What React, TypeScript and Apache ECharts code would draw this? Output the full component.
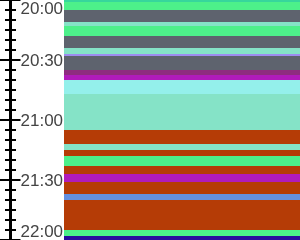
import React, { useEffect, useRef } from "react";
import * as echarts from "echarts";

// Minutes after 20:00
const tickLabels = ["20:00", "20:30", "21:00", "21:30", "22:00"];
const segStart = [0, 1, 5, 11, 13, 18, 24, 27, 28, 35, 37.5, 40, 47, 65, 72, 75, 78, 83, 87, 91, 97, 100, 115, 118];
const segEnd = [1, 5, 11, 13, 18, 24, 27, 28, 35, 37.5, 40, 47, 65, 72, 75, 78, 83, 87, 91, 97, 100, 115, 118, 120];
const segKind = [
  "teal", "green", "gray", "lightTeal", "green", "gray", "lightTeal", "lavender", "gray",
  "plum", "magenta", "cyan", "lightTeal", "rust", "lightTeal", "rust", "green", "rust",
  "magenta", "rust", "blue", "rust", "green", "navy",
];
const palette: Record<string, string> = {
  teal: "#37d69c",
  green: "#4df08a",
  gray: "#5e636e",
  lightTeal: "#85e3c7",
  lavender: "#9e8cf0",
  plum: "#8e2c80",
  magenta: "#b01bbb",
  cyan: "#94f0eb",
  rust: "#b53c06",
  blue: "#6490e0",
  navy: "#2a0b9e",
};

export default function App() {
  const ref = useRef<HTMLDivElement>(null);
  useEffect(() => {
    if (!ref.current) return;
    const chart = echarts.init(ref.current, null, { renderer: "svg" });
    const data = segStart.map((s, i) => ({
      value: [s, segEnd[i], 0],
      itemStyle: { color: palette[segKind[i]] },
    }));
    const fmt = (v: number) => {
      const idx = Math.round(v / 30);
      return tickLabels[idx] ?? "";
    };
    const baseAxis = {
      type: "value" as const,
      min: 0,
      max: 120,
      interval: 30,
      inverse: true,
      position: "left" as const,
      offset: 53.5,
      splitLine: { show: false },
    };
    chart.setOption({
      animation: false,
      grid: { left: 64, right: 0, top: 0, bottom: 0, containLabel: false },
      xAxis: { type: "value", min: 0, max: 1, show: false },
      yAxis: [
        {
          ...baseAxis,
          axisLine: { show: true, onZero: false, lineStyle: { color: "#000", width: 3 } },
          axisTick: { show: true, length: 10.5, lineStyle: { color: "#000", width: 2 } },
          minorTick: { show: true, splitNumber: 6, length: 5.5, lineStyle: { color: "#000", width: 2 } },
          axisLabel: { show: false },
        },
        {
          ...baseAxis,
          axisLine: { show: false, onZero: false },
          axisTick: { show: true, inside: true, length: 10, lineStyle: { color: "#000", width: 2 } },
          minorTick: { show: true, splitNumber: 6, length: 5.5, lineStyle: { color: "#000", width: 2 } },
          axisLabel: {
            show: true,
            inside: true,
            margin: 10,
            formatter: fmt,
            color: "#444",
            fontSize: 17,
            fontFamily: "Liberation Sans",
            verticalAlignMinLabel: "top",
            verticalAlignMaxLabel: "bottom",
          },
        },
      ],
      series: [
        {
          type: "custom",
          xAxisIndex: 0,
          yAxisIndex: 0,
          encode: { x: 2, y: [0, 1] },
          data,
          renderItem: (params: any, api: any) => {
            const p0 = api.coord([0, api.value(0)]);
            const p1 = api.coord([1, api.value(1)]);
            return {
              type: "rect",
              shape: { x: p0[0], y: p0[1], width: p1[0] - p0[0], height: p1[1] - p0[1] },
              style: { fill: api.visual("color") },
            };
          },
        },
      ],
    });
    return () => chart.dispose();
  }, []);
  return (
    <div
      ref={ref}
      style={{ position: "fixed", left: 0, top: 0, width: 300, height: 240 }}
    />
  );
}
